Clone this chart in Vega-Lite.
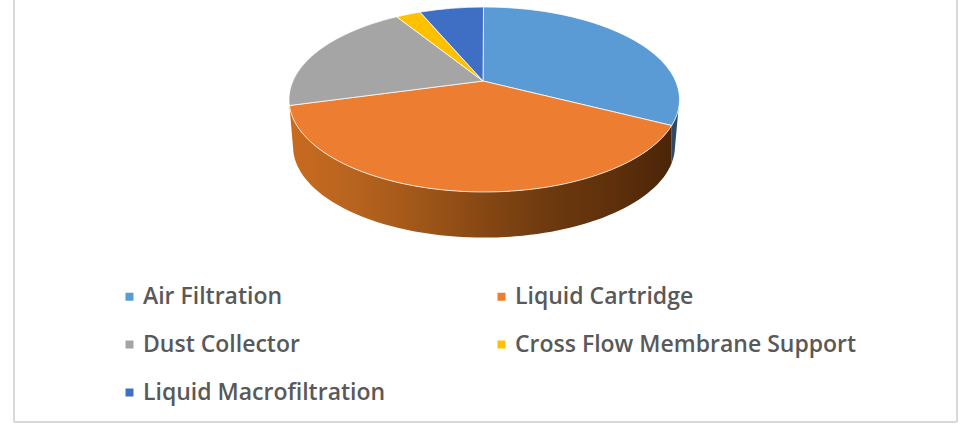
{"$schema":"https://vega.github.io/schema/vega-lite/v6.json","width":967,"height":424,"padding":0,"autosize":{"type":"none"},"background":"#ffffff","config":{"view":{"stroke":null}},"data":{"values":[{"segment":"Air Filtration","slice":"a","share":32},{"segment":"Liquid Cartridge","slice":"b","share":41},{"segment":"Dust Collector","slice":"c","share":19},{"segment":"Cross Flow Membrane Support","slice":"d","share":2},{"segment":"Liquid Macrofiltration","slice":"e","share":6}]},"layer":[{"data":{"values":[{"frame":"left"}]},"mark":{"type":"rule","color":"#d9d9d9","strokeWidth":2},"encoding":{"x":{"value":14},"y":{"value":0},"y2":{"value":422}}},{"data":{"values":[{"frame":"right"}]},"mark":{"type":"rule","color":"#d9d9d9","strokeWidth":2},"encoding":{"x":{"value":957},"y":{"value":0},"y2":{"value":422}}},{"data":{"values":[{"frame":"bottom"}]},"mark":{"type":"rule","color":"#d9d9d9","strokeWidth":2},"encoding":{"y":{"value":422},"x":{"value":14},"x2":{"value":957}}},{"transform":[{"filter":"datum.segment === 'Liquid Cartridge'"}],"mark":{"type":"point","filled":true,"opacity":1,"size":4,"strokeWidth":0,"shape":"M188.2,-86.5 A195.3,92.5 0 0 1 -194.1,-106.5 L-190.5,-65 A191,91.5 0 0 0 188.2,-49 Z","fill":{"gradient":"linear","x1":0,"y1":0,"x2":1,"y2":0,"stops":[{"offset":0,"color":"#c96a1f"},{"offset":0.15,"color":"#b9651f"},{"offset":0.3,"color":"#a65a1a"},{"offset":0.5,"color":"#874813"},{"offset":0.7,"color":"#6b380f"},{"offset":0.85,"color":"#5e300b"},{"offset":1,"color":"#4a2508"}]}}},{"transform":[{"filter":"datum.segment === 'Air Filtration'"}],"mark":{"type":"point","filled":true,"opacity":1,"size":4,"strokeWidth":0,"shape":"M188.2,-86.5 A195.3,92.5 0 0 0 195.8,-112 L191.5,-65 A191,90 0 0 1 188.2,-49 Z","fill":"#2d4a6b"}},{"mark":{"type":"point","filled":true,"opacity":1,"size":4,"stroke":"#ffffff","strokeWidth":1,"strokeOpacity":0.75},"encoding":{"color":{"field":"segment","type":"nominal","scale":{"domain":["Air Filtration","Dust Collector","Liquid Macrofiltration","Liquid Cartridge","Cross Flow Membrane Support"],"range":["#5b9bd5","#a5a5a5","#3f6fc4","#ed7d31","#ffc000"]},"legend":{"title":null,"orient":"none","legendX":118,"legendY":285,"columns":2,"symbolType":"square","symbolSize":64,"symbolStrokeWidth":0,"symbolOpacity":1,"labelFont":"Open Sans","labelFontSize":23,"labelFontWeight":600,"labelColor":"#595959","labelLimit":500,"labelOffset":2,"columnPadding":104,"rowPadding":24}},"shape":{"field":"slice","type":"nominal","legend":null,"scale":{"domain":["a","b","c","d","e"],"range":["M-0.5,-131 L0,-205 A195.3,92.5 0 0 1 188.2,-86.5 Z","M-0.5,-131 L188.2,-86.5 A195.3,92.5 0 0 1 -194.1,-106.5 Z","M-0.5,-131 L-194.1,-106.5 A195.3,92.5 0 0 1 -86.8,-195.2 Z","M-0.5,-131 L-86.8,-195.2 A195.3,92.5 0 0 1 -63.5,-199.9 Z","M-0.5,-131 L-63.5,-199.9 A195.3,92.5 0 0 1 0,-205 Z"]}},"tooltip":{"field":"share","type":"quantitative"}}}]}
